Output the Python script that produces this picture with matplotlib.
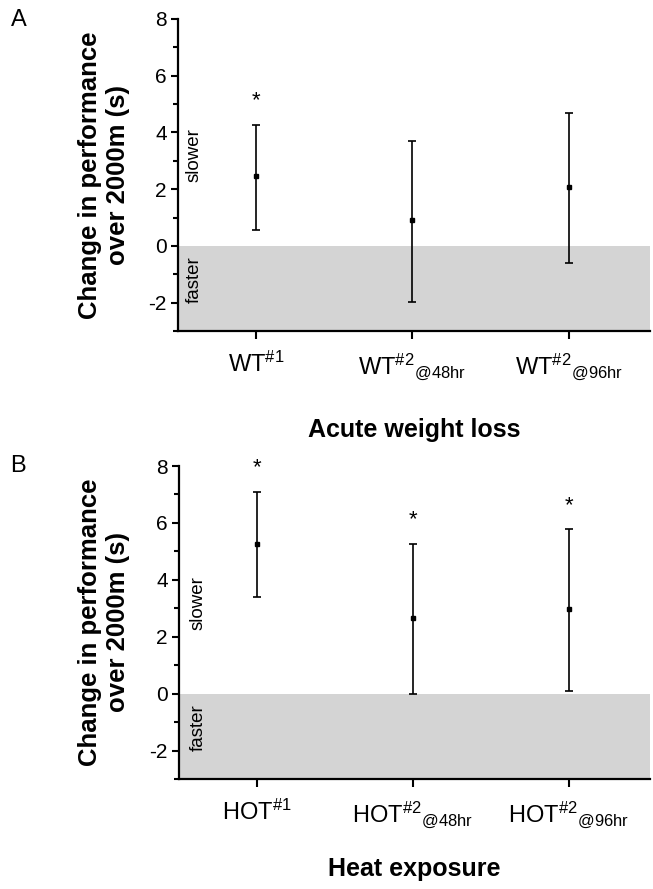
import matplotlib
matplotlib.use('Agg')
import matplotlib.pyplot as plt
from matplotlib.ticker import MultipleLocator
import matplotlib.transforms as mtrans

plt.rcParams['font.family'] = ['Liberation Sans', 'DejaVu Sans']
plt.rcParams['mathtext.fontset'] = 'custom'
plt.rcParams['mathtext.rm'] = 'Liberation Sans'
plt.rcParams['mathtext.it'] = 'Liberation Sans:italic'
plt.rcParams['mathtext.bf'] = 'Liberation Sans:bold'
plt.rcParams['axes.unicode_minus'] = False

# ---- Data ----
labels_a = [r'WT$^{\#1}$', r'WT$^{\#2}$$_{\mathrm{@48hr}}$', r'WT$^{\#2}$$_{\mathrm{@96hr}}$']
mean_a = [2.45, 0.90, 2.07]
upper_a = [4.28, 3.71, 4.67]
lower_a = [0.57, -1.96, -0.60]
sig_a = [True, False, False]
xlabel_a = 'Acute weight loss'

labels_b = [r'HOT$^{\#1}$', r'HOT$^{\#2}$$_{\mathrm{@48hr}}$', r'HOT$^{\#2}$$_{\mathrm{@96hr}}$']
mean_b = [5.27, 2.65, 2.97]
upper_b = [7.08, 5.26, 5.77]
lower_b = [3.39, 0.00, 0.11]
sig_b = [True, True, True]
xlabel_b = 'Heat exposure'

ylabel = 'Change in performance\nover 2000m (s)'
W, H = 653, 889

fig = plt.figure(figsize=(W / 100, H / 100), dpi=100)


def panel(rect, labels, mean, upper, lower, sig, xlabel, letter, letter_xy, xlabel_y, slow_x):
    ax = fig.add_axes(rect)
    x = list(range(1, len(labels) + 1))
    ax.axhspan(-3, 0, color='#d4d4d4', zorder=0, lw=0)
    yerr = [[m - l for m, l in zip(mean, lower)], [u - m for u, m in zip(upper, mean)]]
    ax.errorbar(x, mean, yerr=yerr, fmt='s', color='black', ms=3, elinewidth=1.2,
                capsize=3, capthick=1.2, zorder=3)
    for xi, u, s in zip(x, upper, sig):
        if s:
            ax.text(xi, u + 0.85, '*', ha='center', va='center', fontsize=16)
    ax.set_xlim(0.5, 3.52)
    ax.set_ylim(-3, 8)
    ax.yaxis.set_major_locator(MultipleLocator(2))
    ax.yaxis.set_minor_locator(MultipleLocator(1))
    ax.set_xticks(x)
    ax.set_xticklabels(labels, fontsize=17)
    for sp in ['top', 'right']:
        ax.spines[sp].set_visible(False)
    for sp in ['left', 'bottom']:
        ax.spines[sp].set_linewidth(1.6)
    ax.tick_params(axis='y', which='major', length=5, width=1.5, labelsize=15, pad=3)
    ax.tick_params(axis='y', which='minor', length=3.5, width=1.5)
    ax.tick_params(axis='x', which='major', length=6, width=1.5, pad=9)
    tr = mtrans.blended_transform_factory(ax.transAxes, ax.transData)
    ax.text(slow_x, 3.2, 'slower', rotation=90, ha='center', va='center', fontsize=13.5, transform=tr)
    ax.text(slow_x, -1.2, 'faster', rotation=90, ha='center', va='center', fontsize=13.5, transform=tr)
    ymid = rect[1] + rect[3] / 2
    fig.text(104 / W, ymid, ylabel, rotation=90, ha='center', va='center', fontsize=18.5,
             fontweight='bold', linespacing=1.25)
    fig.text(414 / W, 1 - xlabel_y / H, xlabel, ha='center', va='center', fontsize=18, fontweight='bold')
    fig.text(letter_xy[0] / W, 1 - letter_xy[1] / H, letter, ha='center', va='center', fontsize=17)
    return ax


panel([178 / W, 1 - 331 / H, (650 - 178) / W, (331 - 19) / H], labels_a, mean_a, upper_a, lower_a,
      sig_a, xlabel_a, 'A', (19, 20), 430, 0.034)
panel([179 / W, 1 - 779 / H, (650 - 179) / W, (779 - 466) / H], labels_b, mean_b, upper_b, lower_b,
      sig_b, xlabel_b, 'B', (18, 466), 869, 0.04)

fig.savefig('out.png', dpi=100)
